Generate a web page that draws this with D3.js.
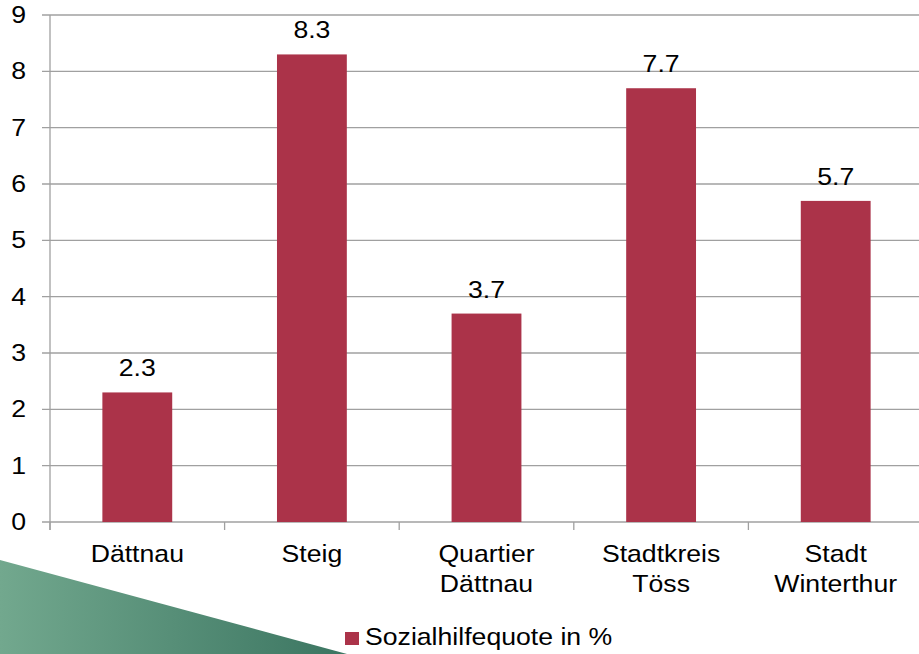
<!DOCTYPE html>
<html>
<head>
<meta charset="utf-8">
<script src="https://cdn.jsdelivr.net/npm/d3@7"></script>
<style>
  body { margin: 0; background: #fff; }
  svg { display: block; font-family: "Liberation Sans", Arial, sans-serif; }
</style>
</head>
<body>
<svg id="chart" width="919" height="654"></svg>
<script>
// --- data ---
const categories = [["Dättnau"], ["Steig"], ["Quartier", "Dättnau"], ["Stadtkreis", "Töss"], ["Stadt", "Winterthur"]];
const values = [2.3, 8.3, 3.7, 7.7, 5.7];
const yTicks = [0, 1, 2, 3, 4, 5, 6, 7, 8, 9];
const seriesName = "Sozialhilfequote in %";

const width = 919, height = 654;
const plotLeft = 50, plotRight = 923; // plot runs a bit past the right edge
const plotTop = 15, plotBottom = 522;
const barColor = "#AB3349";
const gridColor = "#A0A0A0";
const stretch = 1.11; // the source text is slightly wider than normal

const svg = d3.select("#chart");

// puts a text at (x, y) with the horizontal stretch
function label(parent, x, y, str, size, anchor) {
    const g = parent.append("g").attr("transform", `translate(${x},${y}) scale(${stretch},1)`);
    return g.append("text")
        .attr("text-anchor", anchor || "middle")
        .attr("font-size", size)
        .attr("fill", "#000")
        .text(str);
}

// decorative green wedge bottom-left
const grad = svg.append("defs").append("linearGradient")
    .attr("id", "wedge").attr("x1", "0%").attr("x2", "100%");
grad.append("stop").attr("offset", "0%").attr("stop-color", "#72A88E");
grad.append("stop").attr("offset", "100%").attr("stop-color", "#3B7561");
svg.append("polygon")
    .attr("points", "0,560 347,654 0,654")
    .attr("fill", "url(#wedge)");

const x = d3.scaleBand()
    .domain(d3.range(values.length))
    .range([plotLeft, plotRight])
    .paddingInner(0.6).paddingOuter(0.3);

const band = x.step();

const y = d3.scaleLinear()
    .domain([0, 9])
    .range([plotBottom, plotTop]);

// gridlines + y ticks
svg.append("g").selectAll("line")
    .data(yTicks)
    .join("line")
    .attr("x1", plotLeft - 8).attr("x2", width)
    .attr("y1", d => y(d)).attr("y2", d => y(d))
    .attr("stroke", gridColor).attr("stroke-width", 1.3);

// y axis line
svg.append("line")
    .attr("x1", plotLeft).attr("x2", plotLeft)
    .attr("y1", y(9)).attr("y2", y(0) + 8)
    .attr("stroke", gridColor).attr("stroke-width", 1.3);

const yl = svg.append("g");
yTicks.forEach(t => label(yl, 26, y(t) + 8, t, 24, "end"));

// bars
svg.append("g").selectAll("rect")
    .data(values)
    .join("rect")
    .attr("x", (d, i) => x(i))
    .attr("width", x.bandwidth())
    .attr("y", d => y(d))
    .attr("height", d => y(0) - y(d))
    .attr("fill", barColor);

// category tick marks
const x0 = y(0);
svg.append("g").selectAll("line")
    .data(d3.range(values.length + 1))
    .join("line")
    .attr("x1", i => plotLeft + i * band).attr("x2", i => plotLeft + i * band)
    .attr("y1", x0).attr("y2", x0 + 8)
    .attr("stroke", gridColor).attr("stroke-width", 1.3);

// data labels
const dl = svg.append("g");
values.forEach((v, i) => label(dl, x(i) + x.bandwidth() / 2, y(v) - 16, v.toFixed(1), 24));

// category labels
const cl = svg.append("g");
categories.forEach((lines, i) => {
    lines.forEach((s, j) => label(cl, x(i) + x.bandwidth() / 2, x0 + 40 + j * 30, s, 24));
});

// legend
const lg = svg.append("g").attr("transform", "translate(345,632)");
lg.append("rect").attr("width", 14).attr("height", 13).attr("fill", barColor);
label(lg, 20, 13, seriesName, 24, "start");
</script>
</body>
</html>
